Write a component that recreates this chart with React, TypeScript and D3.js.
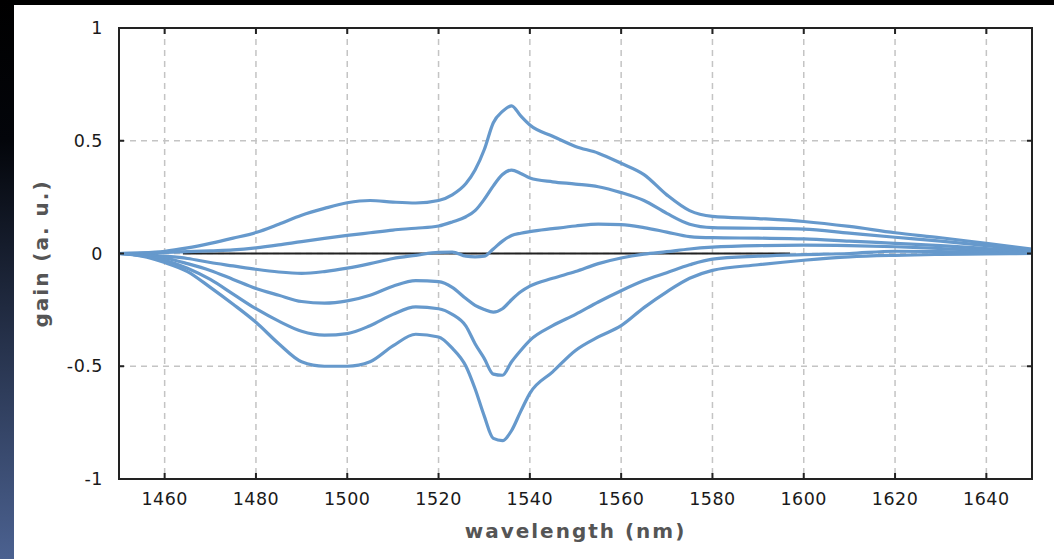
import React from "react";
import * as d3 from "d3";

const wavelengths = [1450, 1455, 1460, 1465, 1470, 1475, 1480, 1485, 1490, 1495, 1500, 1505, 1510, 1515, 1520, 1523, 1526, 1528, 1530, 1532, 1534, 1536, 1538, 1540, 1545, 1550, 1555, 1560, 1565, 1570, 1575, 1580, 1590, 1600, 1610, 1620, 1630, 1640, 1650];

const gainA = [0, 0.003, 0.01, 0.025, 0.045, 0.068, 0.093, 0.13, 0.17, 0.2, 0.225, 0.235, 0.228, 0.224, 0.235, 0.26, 0.31, 0.37, 0.46, 0.58, 0.63, 0.655, 0.61, 0.57, 0.52, 0.475, 0.445, 0.4, 0.35, 0.26, 0.19, 0.165, 0.155, 0.142, 0.12, 0.092, 0.07, 0.045, 0.02];
const gainB = [0, 0.002, 0.005, 0.008, 0.012, 0.016, 0.025, 0.038, 0.053, 0.067, 0.08, 0.092, 0.104, 0.112, 0.122, 0.14, 0.163, 0.19, 0.24, 0.3, 0.35, 0.37, 0.355, 0.335, 0.318, 0.308, 0.296, 0.27, 0.235, 0.178, 0.13, 0.115, 0.112, 0.108, 0.09, 0.072, 0.055, 0.035, 0.015];
const gainC = [0, -0.005, -0.012, -0.022, -0.04, -0.055, -0.07, -0.082, -0.088, -0.08, -0.065, -0.045, -0.022, -0.008, 0.005, 0.006, -0.012, -0.015, -0.012, 0.02, 0.055, 0.08, 0.09, 0.097, 0.11, 0.122, 0.13, 0.128, 0.115, 0.095, 0.075, 0.07, 0.068, 0.065, 0.055, 0.045, 0.035, 0.022, 0.008];
const gainD = [0, -0.008, -0.02, -0.045, -0.075, -0.115, -0.155, -0.185, -0.213, -0.22, -0.21, -0.185, -0.145, -0.12, -0.125, -0.15, -0.2, -0.23, -0.248, -0.26, -0.245, -0.205, -0.17, -0.145, -0.11, -0.08, -0.045, -0.02, -0.003, 0.008, 0.02, 0.028, 0.035, 0.037, 0.035, 0.03, 0.022, 0.013, 0.004];
const gainE = [0, -0.01, -0.03, -0.065, -0.115, -0.18, -0.245, -0.3, -0.345, -0.362, -0.355, -0.32, -0.27, -0.237, -0.245, -0.27, -0.322, -0.4, -0.465, -0.535, -0.54, -0.48, -0.43, -0.385, -0.32, -0.27, -0.215, -0.165, -0.12, -0.085, -0.05, -0.025, -0.012, -0.005, 0.0, 0.01, 0.008, 0.004, 0];
const gainF = [0, -0.012, -0.04, -0.08, -0.15, -0.225, -0.305, -0.4, -0.48, -0.5, -0.5, -0.48, -0.41, -0.358, -0.37, -0.42, -0.5, -0.6, -0.72, -0.82, -0.83, -0.785, -0.7, -0.62, -0.525, -0.43, -0.37, -0.32, -0.24, -0.17, -0.11, -0.075, -0.05, -0.03, -0.015, -0.008, -0.004, -0.002, 0];

const seriesList = [gainA, gainB, gainC, gainD, gainE, gainF];

const xTicks = [1460, 1480, 1500, 1520, 1540, 1560, 1580, 1600, 1620, 1640];
const yTicks = [-1, -0.5, 0, 0.5, 1];
const zeroLineRange = [1464, 1597];

const W = 1054;
const H = 559;
const left = 119;
const right = 1032;
const top = 28;
const bottom = 479;

export default function App() {
  const x = d3.scaleLinear().domain([1450, 1650]).range([left, right]);
  const y = d3.scaleLinear().domain([-1, 1]).range([bottom, top]);
  const line = d3
    .line<number>()
    .x((_, i) => x(wavelengths[i]))
    .y((d) => y(d))
    .curve(d3.curveMonotoneX);

  const tickFont = "DejaVu Sans, Verdana, sans-serif";

  return (
    <svg
      width={W}
      height={H}
      style={{ position: "absolute", left: 0, top: 0, display: "block" }}
    >
      <defs>
        <linearGradient id="strip" x1="0" y1="0" x2="0" y2="1">
          <stop offset="0%" stopColor="#000000" />
          <stop offset="25%" stopColor="#03050a" />
          <stop offset="100%" stopColor="#4b6190" />
        </linearGradient>
        <clipPath id="plotClip">
          <rect x={left} y={top} width={right - left} height={bottom - top} />
        </clipPath>
      </defs>
      <rect x={0} y={0} width={W} height={H} fill="#ffffff" />
      <rect x={0} y={0} width={W} height={5} fill="#000000" />
      <rect x={0} y={0} width={14} height={H} fill="url(#strip)" />

      {/* grid */}
      {xTicks.map((t) => (
        <line
          key={"gx" + t}
          x1={x(t)}
          x2={x(t)}
          y1={top}
          y2={bottom}
          stroke="#c4c4c4"
          strokeWidth={1.5}
          strokeDasharray="6,5"
        />
      ))}
      {yTicks
        .filter((t) => t !== -1 && t !== 1)
        .map((t) => (
          <line
            key={"gy" + t}
            x1={left}
            x2={right}
            y1={y(t)}
            y2={y(t)}
            stroke="#c4c4c4"
            strokeWidth={1.5}
            strokeDasharray="6,5"
          />
        ))}

      {/* zero line */}
      <line
        x1={x(zeroLineRange[0])}
        x2={x(zeroLineRange[1])}
        y1={y(0)}
        y2={y(0)}
        stroke="#222222"
        strokeWidth={2.2}
      />

      {/* curves */}
      <g clipPath="url(#plotClip)">
        {seriesList.map((s, i) => (
          <path
            key={"s" + i}
            d={line(s) || ""}
            fill="none"
            stroke="#6699cc"
            strokeWidth={3.2}
            strokeLinejoin="round"
          />
        ))}
      </g>

      {/* frame */}
      <rect
        x={left}
        y={top}
        width={right - left}
        height={bottom - top}
        fill="none"
        stroke="#222222"
        strokeWidth={2}
      />

      {/* ticks */}
      {xTicks.map((t) => (
        <g key={"tx" + t}>
          <line x1={x(t)} x2={x(t)} y1={top} y2={top + 6} stroke="#222" strokeWidth={2} />
          <line x1={x(t)} x2={x(t)} y1={bottom} y2={bottom - 6} stroke="#222" strokeWidth={2} />
          <text
            x={x(t)}
            y={505}
            textAnchor="middle"
            fontFamily={tickFont}
            fontSize={17.5}
            letterSpacing={0.5}
            fill="#1a1a1a"
          >
            {t}
          </text>
        </g>
      ))}
      {yTicks.map((t) => (
        <g key={"ty" + t}>
          <line x1={left} x2={left + 5} y1={y(t)} y2={y(t)} stroke="#222" strokeWidth={2} />
          <line x1={right} x2={right - 5} y1={y(t)} y2={y(t)} stroke="#222" strokeWidth={2} />
          <text
            x={103}
            y={y(t) + 1}
            textAnchor="end"
            dominantBaseline="middle"
            fontFamily={tickFont}
            fontSize={17.5}
            letterSpacing={0.5}
            fill="#1a1a1a"
          >
            {t}
          </text>
        </g>
      ))}

      {/* axis titles */}
      <text
        x={(left + right) / 2}
        y={538}
        textAnchor="middle"
        fontFamily={tickFont}
        fontWeight="bold"
        fontSize={20}
        letterSpacing={2}
        fill="#555555"
      >
        wavelength (nm)
      </text>
      <text
        transform={`translate(48, ${(top + bottom) / 2}) rotate(-90)`}
        textAnchor="middle"
        fontFamily={tickFont}
        fontWeight="bold"
        fontSize={20}
        letterSpacing={2}
        fill="#555555"
      >
        gain (a. u.)
      </text>
    </svg>
  );
}
